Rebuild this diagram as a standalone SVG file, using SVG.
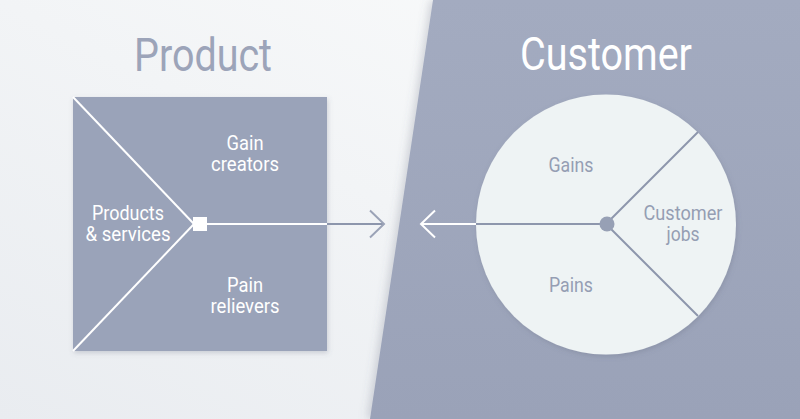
<svg xmlns="http://www.w3.org/2000/svg" width="800" height="419" viewBox="0 0 800 419">
<style>
  text { font-family: Roboto, "Liberation Sans", sans-serif; text-anchor: middle; }
  .title { font-size: 46px; }
  .lbl { font-size: 21px; }
  .lbc { font-size: 20px; }
  .w { fill: #ffffff; }
  .g { fill: #959eb3; }
  .wl { stroke: #ffffff; stroke-width: 2; fill: none; }
  .gl { stroke: #8d96ac; stroke-width: 2; fill: none; }
</style>
<defs>
  <linearGradient id="bgL" x1="0" y1="1" x2="1" y2="0">
    <stop offset="0" stop-color="#e9ecf0"/>
    <stop offset="1" stop-color="#fbfcfc"/>
  </linearGradient>
  <linearGradient id="bgR" x1="0" y1="0" x2="0" y2="1">
    <stop offset="0" stop-color="#a3abc0"/>
    <stop offset="1" stop-color="#9aa2b8"/>
  </linearGradient>
  <filter id="sh" x="-10%" y="-10%" width="125%" height="125%">
    <feDropShadow dx="1" dy="2" stdDeviation="2.5" flood-color="#5a6378" flood-opacity="0.25"/>
  </filter>
  <filter id="shL" x="-5%" y="-5%" width="110%" height="110%">
    <feDropShadow dx="-3" dy="0" stdDeviation="4" flood-color="#5a6378" flood-opacity="0.25"/>
  </filter>
</defs>

<g id="background">
  <rect x="0" y="0" width="800" height="419" fill="url(#bgL)"/>
  <polygon points="433,0 800,0 800,419 370,419" fill="url(#bgR)" filter="url(#shL)"/>
</g>

<g id="product-title">
  <text class="title" x="203" y="71" fill="#9ca4b9" textLength="138" lengthAdjust="spacingAndGlyphs">Product</text>
</g>

<g id="value-map">
  <rect x="73" y="97" width="254" height="254" fill="#9aa3b9" filter="url(#sh)"/>
  <line class="wl" x1="73" y1="97" x2="194" y2="224"/>
  <line class="wl" x1="73" y1="351" x2="194" y2="224"/>
  <text class="lbl w" x="245"><tspan x="245" y="149.5" textLength="37" lengthAdjust="spacingAndGlyphs">Gain</tspan><tspan x="245" y="171" textLength="68" lengthAdjust="spacingAndGlyphs">creators</tspan></text>
  <text class="lbl w" x="128"><tspan x="128" y="220" textLength="72" lengthAdjust="spacingAndGlyphs">Products</tspan><tspan x="128" y="241" textLength="85" lengthAdjust="spacingAndGlyphs">&amp; services</tspan></text>
  <text class="lbl w" x="245"><tspan x="245" y="292" textLength="36" lengthAdjust="spacingAndGlyphs">Pain</tspan><tspan x="245" y="313" textLength="69" lengthAdjust="spacingAndGlyphs">relievers</tspan></text>
</g>

<g id="customer-title">
  <text class="title w" x="606" y="70" textLength="172" lengthAdjust="spacingAndGlyphs">Customer</text>
</g>

<g id="customer-profile">
  <circle cx="606" cy="224.5" r="130" fill="#eef3f4" filter="url(#sh)"/>
  <line class="gl" x1="606" y1="224" x2="698" y2="132"/>
  <line class="gl" x1="606" y1="224" x2="698" y2="316"/>
  <text class="lbc g" x="571" y="171.5" textLength="45" lengthAdjust="spacingAndGlyphs">Gains</text>
  <text class="lbc g" x="571" y="292" textLength="44" lengthAdjust="spacingAndGlyphs">Pains</text>
  <text class="lbc g" x="683"><tspan x="683" y="219.5" textLength="79" lengthAdjust="spacingAndGlyphs">Customer</tspan><tspan x="683" y="240.5" textLength="33" lengthAdjust="spacingAndGlyphs">jobs</tspan></text>
</g>

<g id="connectors">
  <line class="wl" x1="200" y1="224" x2="327" y2="224"/>
  <line class="gl" x1="327" y1="224" x2="383" y2="224" stroke="#9ba3b7"/>
  <polyline points="370,210.5 384,224 370,237.5" fill="none" stroke="#9ba3b7" stroke-width="2"/>
  <line class="gl" x1="476" y1="224" x2="606" y2="224"/>
  <line class="wl" x1="422" y1="224" x2="476" y2="224"/>
  <polyline class="wl" points="435,210.5 421,224 435,237.5"/>
  <rect x="193" y="217" width="14" height="14" fill="#ffffff"/>
  <circle cx="607" cy="224" r="7.5" fill="#97a0b5"/>
</g>
</svg>
